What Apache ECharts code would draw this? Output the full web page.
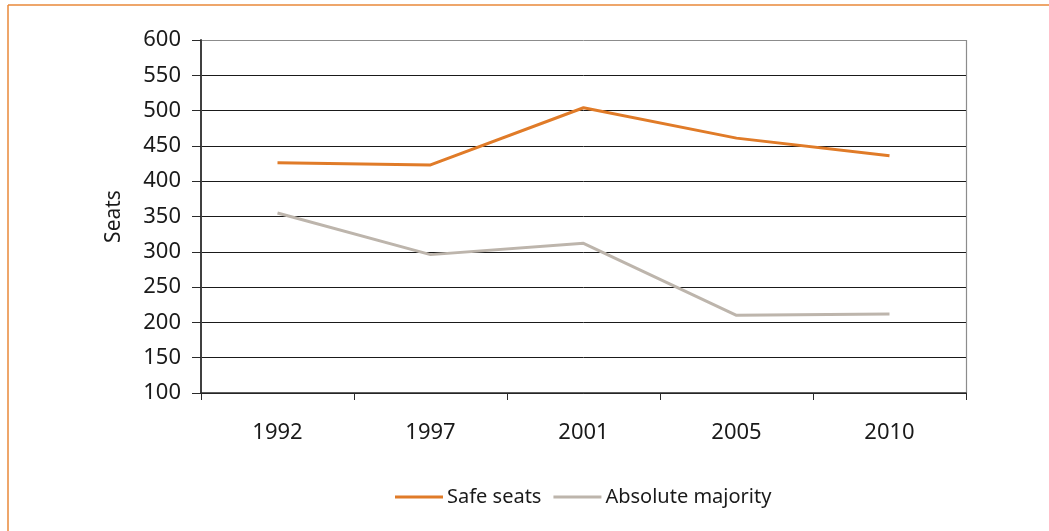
<!DOCTYPE html>
<html>
<head>
<meta charset="utf-8">
<script src="https://cdn.jsdelivr.net/npm/echarts@6/dist/echarts.min.js"></script>
<style>
html,body{margin:0;padding:0;background:#fff;}
#chart{width:1049px;height:531px;}
</style>
</head>
<body>
<div id="chart"></div>
<script>
var years = ['1992', '1997', '2001', '2005', '2010'];
var safeSeats = [426, 423, 504, 461, 436];
var absoluteMajority = [355, 296, 312, 210, 212];
var yTicks = [100, 150, 200, 250, 300, 350, 400, 450, 500, 550, 600];

var FONT = '"Noto Sans", sans-serif';
var chart = echarts.init(document.getElementById('chart'), null, {renderer: 'canvas'});
var splitColors = yTicks.map(function (v, i) { return i === yTicks.length - 1 ? '#8c8c8c' : '#1a1a1a'; });

chart.setOption({
  backgroundColor: '#fff',
  animation: false,
  graphic: [
    {type: 'line', shape: {x1: 8, y1: 5, x2: 1049, y2: 5}, style: {stroke: '#e8883a', lineWidth: 1.5}},
    {type: 'line', shape: {x1: 8, y1: 5, x2: 8, y2: 531}, style: {stroke: '#e8883a', lineWidth: 1.5}},
    {type: 'line', shape: {x1: 966.5, y1: 40, x2: 966.5, y2: 393}, style: {stroke: '#8c8c8c', lineWidth: 1.2}}
  ],
  grid: {left: 201, right: 83, top: 40, bottom: 138, containLabel: false},
  legend: {
    data: ['Safe seats', 'Absolute majority'],
    left: 390, top: 482,
    icon: 'rect', itemWidth: 48, itemHeight: 3, itemGap: 12,
    textStyle: {fontFamily: FONT, fontSize: 20, color: '#1a1a1a', padding: [0, 0, 0, -1]}
  },
  xAxis: {
    type: 'category',
    data: years,
    boundaryGap: true,
    axisLine: {show: true, lineStyle: {color: '#2a2a2a', width: 1.5}},
    axisTick: {show: true, alignWithLabel: false, length: 7, lineStyle: {color: '#2a2a2a', width: 1}},
    axisLabel: {fontFamily: FONT, fontSize: 22, color: '#1a1a1a', margin: 29},
    splitLine: {show: false}
  },
  yAxis: {
    type: 'value',
    min: 100, max: 600, interval: 50,
    name: 'Seats',
    nameLocation: 'middle',
    nameGap: 76,
    nameRotate: 90,
    nameTextStyle: {fontFamily: FONT, fontSize: 21, color: '#1a1a1a'},
    axisLine: {show: true, lineStyle: {color: '#404040', width: 2}},
    axisTick: {show: true, length: 9, lineStyle: {color: '#2a2a2a', width: 1}},
    axisLabel: {fontFamily: FONT, fontSize: 22, color: '#1a1a1a', margin: 20},
    splitLine: {show: true, lineStyle: {color: splitColors, width: 1}}
  },
  series: [
    {
      name: 'Safe seats', type: 'line', data: safeSeats,
      symbol: 'none', color: '#e07b28',
      lineStyle: {width: 3, color: '#e07b28'}
    },
    {
      name: 'Absolute majority', type: 'line', data: absoluteMajority,
      symbol: 'none', color: '#bdb5ac',
      lineStyle: {width: 3, color: '#bdb5ac'}
    }
  ]
});
</script>
</body>
</html>
